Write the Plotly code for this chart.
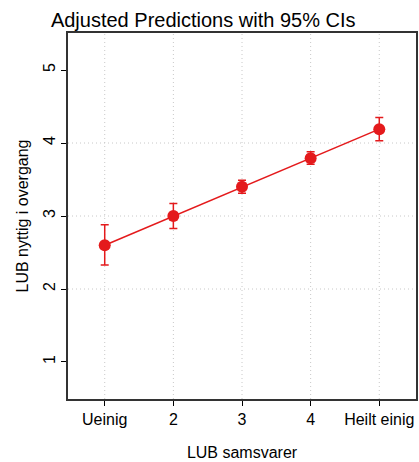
import plotly.graph_objects as go

categories = [1, 2, 3, 4, 5]
tick_labels = ["Ueinig", "2", "3", "4", "Heilt einig"]
predicted = [2.60, 3.00, 3.40, 3.79, 4.19]
ci_upper = [2.88, 3.17, 3.49, 3.88, 4.35]
ci_lower = [2.33, 2.83, 3.31, 3.71, 4.03]

red = "#E41A1C"
grid = "#c8c8c8"

err_plus = [u - p for u, p in zip(ci_upper, predicted)]
err_minus = [p - l for p, l in zip(predicted, ci_lower)]

fig = go.Figure()
fig.add_trace(go.Scatter(
    x=categories, y=predicted, mode="lines+markers",
    line=dict(color=red, width=1.5),
    marker=dict(color=red, size=12),
    error_y=dict(type="data", symmetric=False, array=err_plus, arrayminus=err_minus,
                 color=red, thickness=1.5, width=4),
    showlegend=False,
))

fig.update_layout(
    width=419, height=462,
    margin=dict(l=68, r=1, t=33, b=63),
    paper_bgcolor="white", plot_bgcolor="white",
    font=dict(family="Liberation Sans, Arial, sans-serif", color="black", size=16),
    title=dict(text="Adjusted Predictions with 95% CIs", x=0.485, xanchor="center",
               xref="container", y=0.957, yanchor="middle",
               font=dict(size=20, color="black")),
    xaxis=dict(
        range=[0.465, 5.535], tickmode="array", tickvals=categories, ticktext=tick_labels,
        ticks="outside", ticklen=5, tickcolor="black", tickwidth=1,
        showline=True, linecolor="#333333", linewidth=1.5, mirror=True,
        showgrid=False, zeroline=False,
        title=dict(text="LUB samsvarer", font=dict(size=16), standoff=20),
        tickfont=dict(size=16),
    ),
    yaxis=dict(
        range=[0.493, 5.507], tickmode="array", tickvals=[1, 2, 3, 4, 5],
        tickangle=-90,
        ticks="outside", ticklen=5, tickcolor="black", tickwidth=1,
        showline=True, linecolor="#333333", linewidth=1.5, mirror=True,
        showgrid=False, zeroline=False,
        title=dict(text="LUB nyttig i overgang", font=dict(size=16), standoff=8),
        tickfont=dict(size=16),
    ),
)

for v in [2, 3, 4]:
    fig.add_shape(type="line", xref="paper", x0=0, x1=1, yref="y", y0=v, y1=v,
                  line=dict(color=grid, width=1, dash="1px,3px"), layer="below")
for v in categories:
    fig.add_shape(type="line", yref="paper", y0=0, y1=1, xref="x", x0=v, x1=v,
                  line=dict(color=grid, width=1, dash="1px,3px"), layer="below")

fig.write_html("out.html", config={"displayModeBar": False},
               post_script="document.body.style.margin='0';document.body.style.padding='0';")
